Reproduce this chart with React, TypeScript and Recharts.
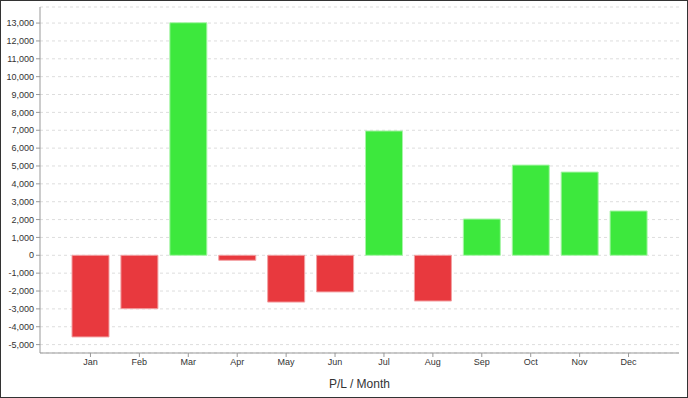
import { BarChart, Bar, XAxis, YAxis, CartesianGrid, Cell } from 'recharts';

const months = ['Jan', 'Feb', 'Mar', 'Apr', 'May', 'Jun', 'Jul', 'Aug', 'Sep', 'Oct', 'Nov', 'Dec'];
const pl = [-4570, -2990, 13020, -280, -2620, -2050, 6960, -2560, 2030, 5050, 4660, 2480];
const yTicks = [-5000, -4000, -3000, -2000, -1000, 0, 1000, 2000, 3000, 4000, 5000, 6000, 7000, 8000, 9000, 10000, 11000, 12000, 13000];

const data = months.map((m, i) => ({ month: m, pl: pl[i] }));

const fmt = (v: number) => v.toLocaleString('en-US');

export default function App() {
  return (
    <div
      style={{
        position: 'fixed',
        top: 0,
        left: 0,
        width: 688,
        height: 398,
        boxSizing: 'border-box',
        border: '1px solid #333',
        background: '#fff',
        fontFamily: '"Liberation Sans", Arial, sans-serif',
      }}
    >
      <div style={{ position: 'absolute', top: -1, left: -1 }}>
        <BarChart width={688} height={398} data={data} margin={{ top: 7, right: 9, left: 0, bottom: 0 }}>
          <CartesianGrid vertical={false} stroke="#ddd" strokeDasharray="3 3" />
          <XAxis
            dataKey="month"
            height={45}
            padding={{ left: 26, right: 26 }}
            tick={{ fontSize: 9, fill: '#333' }}
            tickSize={4}
            stroke="#999"
            interval={0}
            label={{ value: 'P/L / Month', position: 'insideBottom', offset: 10, fontSize: 12, fill: '#333' }}
          />
          <XAxis xAxisId="top" dataKey="month" orientation="top" height={0} tick={false} stroke="#bbb" />
          <YAxis
            width={40}
            domain={[-5470, 13900]}
            ticks={yTicks}
            interval={0}
            tickFormatter={fmt}
            tick={{ fontSize: 9, fill: '#333' }}
            tickSize={4}
            stroke="#999"
          />
          <YAxis yAxisId="right" orientation="right" width={0} tick={false} stroke="#bbb" />
          <Bar dataKey="pl" barSize={37} isAnimationActive={false} strokeWidth={1}>
            {data.map((d) => (
              <Cell
                key={d.month}
                fill={d.pl < 0 ? '#e8393e' : '#3de83d'}
                stroke={d.pl < 0 ? '#f2a0a2' : '#a8f5a8'}
              />
            ))}
          </Bar>
        </BarChart>
      </div>
    </div>
  );
}
